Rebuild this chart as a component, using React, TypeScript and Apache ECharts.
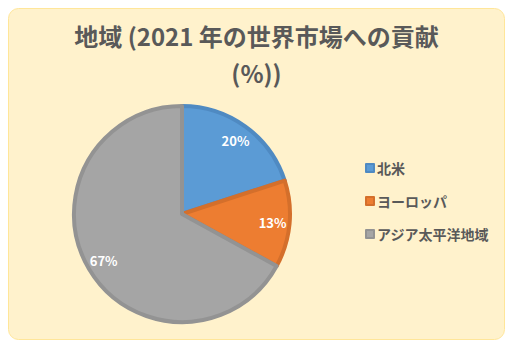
import React, { useEffect, useRef } from "react";
import * as echarts from "echarts";

const regions = ["北米", "ヨーロッパ", "アジア太平洋地域"];
const shares = [20, 13, 67];
const fillColors = ["#5B9BD5", "#ED7D31", "#A5A5A5"];
const borderColors = ["#4F8AC2", "#D46F2B", "#939393"];
const titleText = "地域 (2021 年の世界市場への貢献\n(%))";

export default function App() {
  const ref = useRef<HTMLDivElement>(null);
  useEffect(() => {
    if (!ref.current) return;
    const chart = echarts.init(ref.current, null, { renderer: "svg" });
    const font = "'Noto Sans CJK JP', 'Noto Sans', sans-serif";
    chart.setOption({
      animation: false,
      graphic: [
        {
          type: "rect",
          z: -10,
          shape: { x: 8.5, y: 8.5, width: 496, height: 331, r: 10 },
          style: { fill: "#FFF2CC", stroke: "#FFE699", lineWidth: 1 },
        },
      ],
      title: {
        text: titleText,
        left: "center",
        top: 12,
        textStyle: {
          fontFamily: font,
          fontSize: 24,
          fontWeight: "bold",
          color: "#595959",
          lineHeight: 37,
        },
      },
      legend: {
        orient: "vertical",
        left: 360,
        top: 156,
        itemWidth: 8,
        itemHeight: 8,
        itemGap: 19,
        icon: "rect",
        textStyle: { fontFamily: font, fontSize: 14, fontWeight: "bold", color: "#595959", padding: [0, 0, 0, -2] },
        data: regions.map((n, i) => ({ name: n, itemStyle: { color: fillColors[i] } })),
      },
      series: [
        {
          type: "pie",
          center: [182, 214],
          radius: 108,
          startAngle: 90,
          clockwise: true,
          label: { show: false },
          labelLine: { show: false },
          data: regions.map((n, i) => ({
            name: n,
            value: shares[i],
            itemStyle: { color: fillColors[i], borderColor: borderColors[i], borderWidth: 4 },
          })),
          emphasis: { disabled: true },
        },
        {
          type: "pie",
          center: [182, 214],
          radius: [70, 106],
          startAngle: 90,
          clockwise: true,
          silent: true,
          z: 5,
          label: {
            show: true,
            position: "inside",
            formatter: "{c}%",
            color: "#FFFFFF",
            fontFamily: font,
            fontSize: 13,
            fontWeight: "bold",
          },
          labelLine: { show: false },
          itemStyle: { color: "rgba(0,0,0,0)", borderWidth: 0 },
          data: regions.map((n, i) => ({ name: n, value: shares[i] })),
          emphasis: { disabled: true },
        },
      ],
    });
    return () => chart.dispose();
  }, []);
  return (
    <div
      ref={ref}
      style={{ position: "absolute", left: 0, top: 0, width: 513, height: 351, background: "#FFFFFF" }}
    />
  );
}
